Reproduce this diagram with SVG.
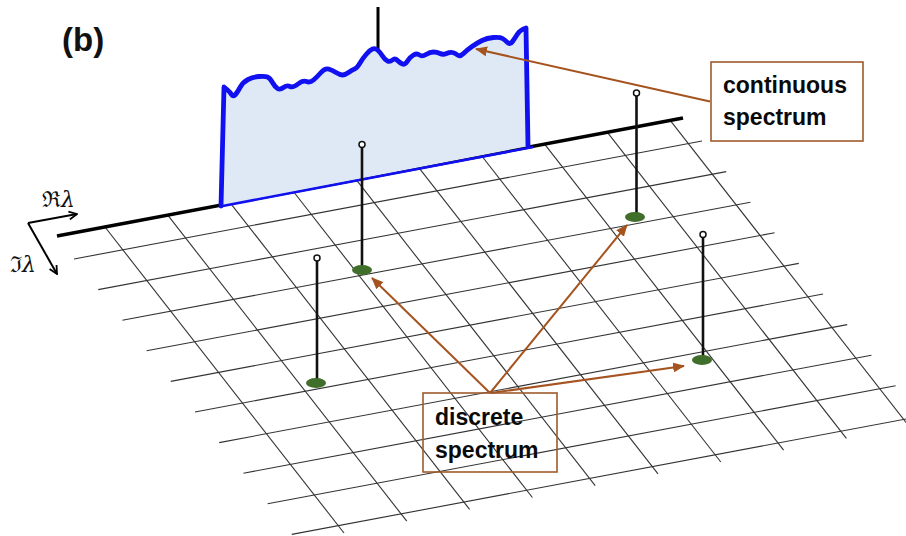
<svg xmlns="http://www.w3.org/2000/svg" width="906" height="536" viewBox="0 0 906 536">
<style>
.grid line{stroke:#333;stroke-width:1.1}
.lbl{font-family:"Liberation Sans",Arial,sans-serif;font-weight:bold;font-size:23px;fill:#0a0a0a}
.box{fill:none;stroke:#9e5b2c;stroke-width:1.6}
.arr{stroke:#a5531f;stroke-width:2;fill:none;marker-end:url(#ah)}
.stem{stroke:#111;stroke-width:2.6}
.tip{fill:#fff;stroke:#111;stroke-width:1.5}
.dot{fill:#3f6f2b}
.ax{stroke:#000;stroke-width:2;fill:none}
.sym{font-family:"DejaVu Serif",serif;font-size:22px;fill:#111}
.blue{stroke:#1010f0;fill:none;stroke-linejoin:round;stroke-linecap:round}
</style>
<defs>
<marker id="ah" markerUnits="userSpaceOnUse" markerWidth="12" markerHeight="10" refX="11" refY="5" orient="auto">
<path d="M0,0 L12,5 L0,10 z" fill="#a5531f"/>
</marker>
<marker id="oh" markerUnits="userSpaceOnUse" markerWidth="10" markerHeight="10" refX="9" refY="5" orient="auto">
<path d="M1,1 L9,5 L1,9" fill="none" stroke="#000" stroke-width="1.8"/>
</marker>
</defs>

<g id="grid" class="grid">
<line x1="74" y1="259" x2="702" y2="141"/>
<line x1="98.2" y1="289.6" x2="726.2" y2="171.6"/>
<line x1="122.4" y1="320.2" x2="750.4" y2="202.2"/>
<line x1="146.6" y1="350.8" x2="774.6" y2="232.8"/>
<line x1="170.8" y1="381.4" x2="798.8" y2="263.4"/>
<line x1="195" y1="412" x2="823" y2="294"/>
<line x1="219.2" y1="442.6" x2="847.2" y2="324.6"/>
<line x1="243.4" y1="473.2" x2="871.4" y2="355.2"/>
<line x1="267.6" y1="503.8" x2="895.6" y2="385.8"/>
<line x1="291.8" y1="534.4" x2="919.8" y2="416.4"/>
<line x1="105" y1="227" x2="344" y2="533"/>
<line x1="167.8" y1="215.2" x2="406.8" y2="521.2"/>
<line x1="230.6" y1="203.3" x2="469.6" y2="509.3"/>
<line x1="293.4" y1="191.5" x2="532.4" y2="497.5"/>
<line x1="356.2" y1="179.6" x2="595.2" y2="485.6"/>
<line x1="419" y1="167.8" x2="658" y2="473.8"/>
<line x1="481.8" y1="156" x2="720.8" y2="462"/>
<line x1="544.6" y1="144.1" x2="783.6" y2="450.1"/>
<line x1="607.4" y1="132.3" x2="846.4" y2="438.3"/>
<line x1="670.2" y1="120.4" x2="909.2" y2="426.4"/>
</g>

<g id="real-axis">
<line x1="57" y1="236" x2="683" y2="118" stroke="#000" stroke-width="3.6"/>
<line x1="378" y1="7" x2="378" y2="150" stroke="#000" stroke-width="3"/>
</g>

<g id="continuous">
<path d="M221,206 L224,87 L227,89.5 Q230,92 231.5,94.5 Q233,97 235,95 Q237,93 240,87.5 Q243,82 248,79.5 Q253,77 259,76.5 Q265,76 267.5,77 Q270,78 272.5,82.5 Q275,87 277.5,88.5 Q280,90 283.5,87.5 Q287,85 290,86.5 Q293,88 298,84 Q303,80 306.5,81.5 Q310,83 313.5,80 Q317,77 321,72.5 Q325,68 328.5,69 Q332,70 336,72.5 Q340,75 342.5,75 Q345,75 348.5,72.5 Q352,70 354.5,69 Q357,68 360,63 Q363,58 366.5,54 Q370,50 372.5,49 Q375,48 377.5,50 Q380,52 382.5,56 Q385,60 387.5,61 Q390,62 392.5,60 Q395,58 397.5,60.5 Q400,63 402.5,64 Q405,65 407.5,61 Q410,57 413.5,55 Q417,53 419.5,55 Q422,57 426,54.5 Q430,52 433.5,52 Q437,52 440,53.5 Q443,55 446.5,53.5 Q450,52 452.5,52.5 Q455,53 457.5,55 Q460,57 463.5,53.5 Q467,50 472,46.5 Q477,43 482,40.5 Q487,38 493.5,37.5 Q500,37 502.5,38.5 Q505,40 507.5,42.5 Q510,45 512.5,41.5 Q515,38 517.5,34 Q520,30 526,28 L529,146 Z" fill="#dfe9f5"/>
<line x1="220" y1="206.5" x2="533" y2="147" stroke="#1010f0" stroke-width="2.6"/>
<path class="blue" stroke-width="4.8" d="M221,206 L224,87 L227,89.5 Q230,92 231.5,94.5 Q233,97 235,95 Q237,93 240,87.5 Q243,82 248,79.5 Q253,77 259,76.5 Q265,76 267.5,77 Q270,78 272.5,82.5 Q275,87 277.5,88.5 Q280,90 283.5,87.5 Q287,85 290,86.5 Q293,88 298,84 Q303,80 306.5,81.5 Q310,83 313.5,80 Q317,77 321,72.5 Q325,68 328.5,69 Q332,70 336,72.5 Q340,75 342.5,75 Q345,75 348.5,72.5 Q352,70 354.5,69 Q357,68 360,63 Q363,58 366.5,54 Q370,50 372.5,49 Q375,48 377.5,50 Q380,52 382.5,56 Q385,60 387.5,61 Q390,62 392.5,60 Q395,58 397.5,60.5 Q400,63 402.5,64 Q405,65 407.5,61 Q410,57 413.5,55 Q417,53 419.5,55 Q422,57 426,54.5 Q430,52 433.5,52 Q437,52 440,53.5 Q443,55 446.5,53.5 Q450,52 452.5,52.5 Q455,53 457.5,55 Q460,57 463.5,53.5 Q467,50 472,46.5 Q477,43 482,40.5 Q487,38 493.5,37.5 Q500,37 502.5,38.5 Q505,40 507.5,42.5 Q510,45 512.5,41.5 Q515,38 517.5,34 Q520,30 526,28 L528,146"/>
</g>

<g id="stem1">
<line class="stem" x1="362" y1="147.5" x2="362" y2="268"/>
<circle class="tip" cx="362" cy="144.5" r="3"/>
<ellipse class="dot" cx="362" cy="270" rx="10" ry="5"/>
</g>
<g id="stem2">
<line class="stem" x1="317" y1="261" x2="317" y2="381"/>
<circle class="tip" cx="317" cy="258" r="3"/>
<ellipse class="dot" cx="316" cy="383" rx="10" ry="5"/>
</g>
<g id="stem3">
<line class="stem" x1="636.5" y1="96" x2="636.5" y2="215"/>
<circle class="tip" cx="636.5" cy="93" r="3"/>
<ellipse class="dot" cx="635" cy="217" rx="10" ry="5"/>
</g>
<g id="stem4">
<line class="stem" x1="703" y1="237.5" x2="703" y2="357"/>
<circle class="tip" cx="703" cy="234.5" r="3"/>
<ellipse class="dot" cx="702" cy="360" rx="10" ry="5"/>
</g>

<g id="connectors">
<line class="arr" x1="710" y1="101.5" x2="476" y2="49"/>
<line class="arr" x1="490" y1="393" x2="372" y2="278"/>
<line class="arr" x1="490" y1="393" x2="627" y2="225"/>
<line class="arr" x1="491" y1="393" x2="684" y2="366"/>
</g>

<g id="continuous-label">
<rect class="box" x="711" y="62" width="152" height="79"/>
<text class="lbl" x="723" y="93">continuous</text>
<text class="lbl" x="723" y="125">spectrum</text>
</g>

<g id="discrete-label">
<rect class="box" x="423" y="393" width="134" height="79"/>
<text class="lbl" x="435" y="425">discrete</text>
<text class="lbl" x="435" y="458">spectrum</text>
</g>

<g id="axes-indicator">
<path class="ax" d="M28,223 L77,214" marker-end="url(#oh)"/>
<path class="ax" d="M28,223 L57,274" marker-end="url(#oh)"/>
<text class="sym" x="42" y="207">ℜ<tspan font-style="italic">λ</tspan></text>
<text class="sym" x="10" y="272">ℑ<tspan font-style="italic">λ</tspan></text>
</g>

<text x="62" y="51" font-family="Liberation Sans,Arial,sans-serif" font-weight="bold" font-size="33" fill="#111">(b)</text>
</svg>
